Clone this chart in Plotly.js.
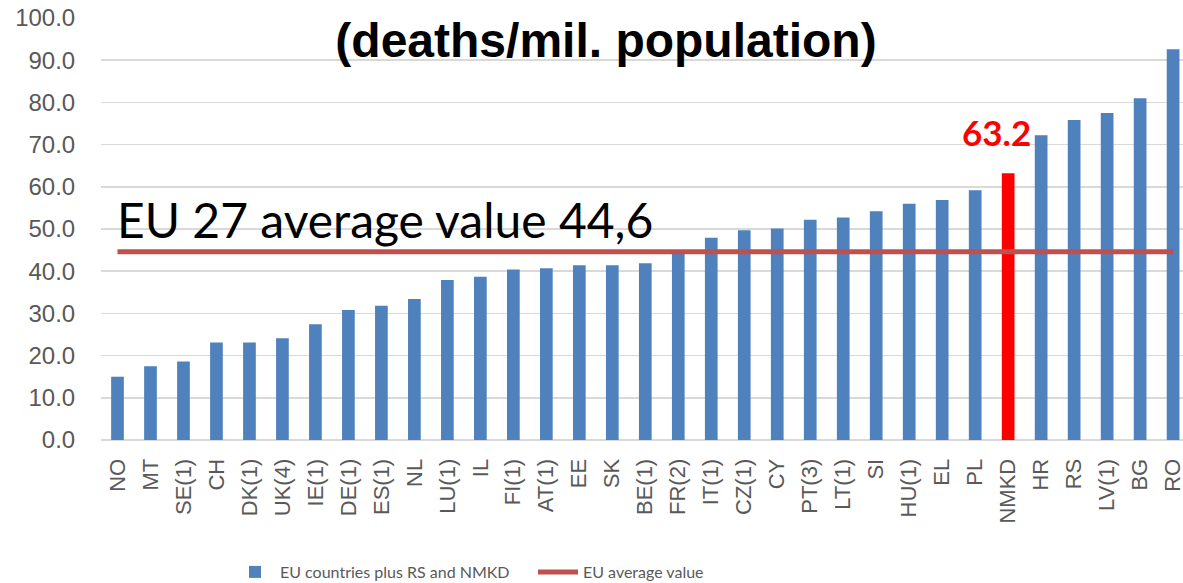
<!DOCTYPE html>
<html>
<head>
<meta charset="utf-8">
<script src="https://cdn.plot.ly/plotly-3.0.1.min.js"></script>
<style>html,body{margin:0;padding:0;background:#fff;}#chart{width:1183px;height:583px;}</style>
</head>
<body>
<div id="chart"></div>
<script>
const countries = ["NO","MT","SE(1)","CH","DK(1)","UK(4)","IE(1)","DE(1)","ES(1)","NL","LU(1)","IL","FI(1)","AT(1)","EE","SK","BE(1)","FR(2)","IT(1)","CZ(1)","CY","PT(3)","LT(1)","SI","HU(1)","EL","PL","NMKD","HR","RS","LV(1)","BG","RO"];
const deathsPerMillion = [15.0,17.5,18.6,23.1,23.1,24.1,27.4,30.8,31.8,33.4,37.9,38.7,40.4,40.7,41.4,41.4,41.9,44.5,47.9,49.7,50.1,52.2,52.7,54.2,56.0,56.9,59.2,63.2,72.2,75.8,77.5,81.0,92.6];
const euAverage = 44.6;
const highlighted = "NMKD";
const highlightedValue = 63.2;
const yTickVals = [0,10,20,30,40,50,60,70,80,90,100];

const barColors = countries.map(c => c === highlighted ? "#FF0000" : "#4F81BD");

const traces = [
  {
    type: "bar",
    name: "EU countries plus RS and NMKD",
    x: countries,
    y: deathsPerMillion,
    marker: {color: barColors},
    hoverinfo: "x+y"
  },
  {
    type: "scatter",
    mode: "lines",
    name: "EU average value",
    x: [countries[0], countries[countries.length - 1]],
    y: [euAverage, euAverage],
    line: {color: "#C0504D", width: 5}
  }
];

const layout = {
  width: 1183,
  height: 583,
  margin: {l: 101, r: 0, t: 18, b: 143, autoexpand: false},
  paper_bgcolor: "#fff",
  plot_bgcolor: "#fff",
  bargap: 0.615,
  showlegend: true,
  legend: {
    orientation: "h",
    xref: "container",
    yref: "container",
    x: 230 / 1183,
    xanchor: "left",
    y: 1 - 572 / 583,
    yanchor: "middle",
    font: {family: "Lato, sans-serif", size: 16, color: "#595959"},
    itemwidth: 40,
    entrywidth: 248,
    entrywidthmode: "pixels",
    traceorder: "normal"
  },
  title: {
    text: "<b>(deaths/mil. population)</b>",
    font: {family: "Liberation Sans, Arial, sans-serif", size: 48, color: "#000"},
    xref: "container",
    yref: "container",
    x: 606 / 1183,
    xanchor: "center",
    y: 1 - 40 / 583,
    yanchor: "middle"
  },
  xaxis: {
    type: "category",
    range: [-0.5, 32.3],
    automargin: false,
    tickangle: -90,
    tickfont: {family: "Liberation Sans, Arial, sans-serif", size: 22, color: "#595959"},
    ticks: "outside",
    ticklen: 9,
    tickcolor: "rgba(0,0,0,0)",
    showgrid: false,
    showline: false,
    zeroline: false,
    fixedrange: true
  },
  yaxis: {
    range: [0, 100],
    automargin: false,
    tickvals: yTickVals,
    tickformat: ".1f",
    tickfont: {family: "Liberation Sans, Arial, sans-serif", size: 24, color: "#595959"},
    ticks: "outside",
    ticklen: 20,
    tickcolor: "rgba(0,0,0,0)",
    showgrid: true,
    gridcolor: "#D9D9D9",
    gridwidth: 1.5,
    zeroline: true,
    zerolinecolor: "#D9D9D9",
    zerolinewidth: 2,
    showline: false,
    fixedrange: true
  },
  annotations: [
    {
      text: "EU 27 average value 44,6",
      xref: "paper",
      x: (115 - 101) / 1082,
      xanchor: "left",
      yref: "y",
      y: euAverage,
      yanchor: "bottom",
      yshift: 2,
      showarrow: false,
      font: {family: "Lato, sans-serif", size: 48, color: "#000"}
    },
    {
      text: "<b>" + highlightedValue.toFixed(1) + "</b>",
      xref: "x",
      x: highlighted,
      xshift: -12,
      yref: "y",
      y: highlightedValue,
      yanchor: "bottom",
      yshift: 18,
      showarrow: false,
      font: {family: "Lato, sans-serif", size: 35, color: "#FF0000"}
    }
  ]
};

Plotly.newPlot("chart", traces, layout, {displayModeBar: false, staticPlot: true});
</script>
</body>
</html>
